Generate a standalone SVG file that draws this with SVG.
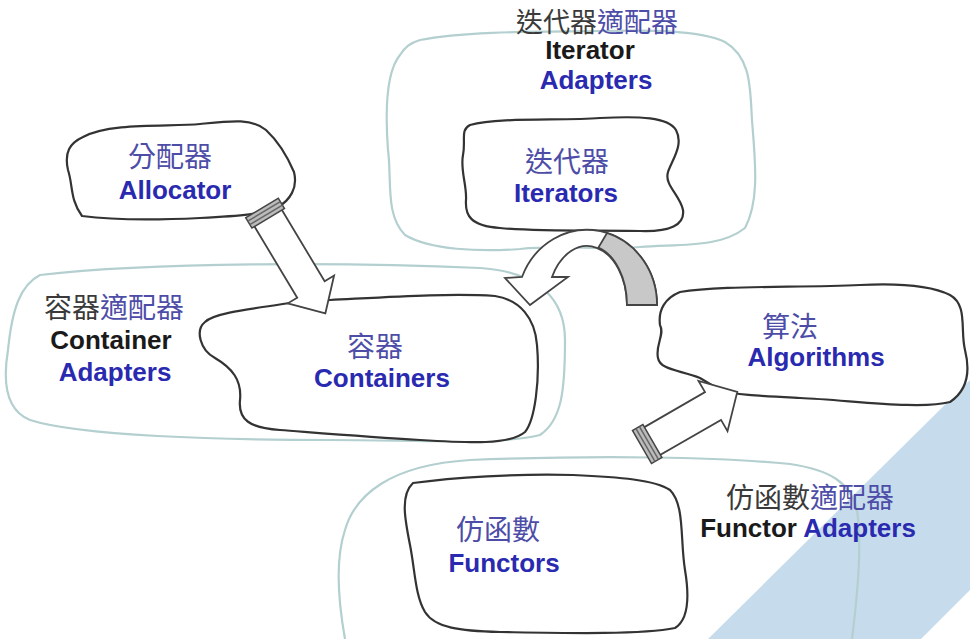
<svg xmlns="http://www.w3.org/2000/svg" width="970" height="639" viewBox="0 0 970 639">
<style>
.outer{fill:none;stroke:#b4cfcf;stroke-width:2.2}
.cloud{fill:#fff;stroke:#333;stroke-width:2.2;stroke-linejoin:round}
.arrow{fill:#fff;stroke:#444;stroke-width:1.8;stroke-linejoin:miter}
.cap{fill:#bbb;stroke:#444;stroke-width:1.5}
.hatch{stroke:#666;stroke-width:1.5}
.en{font-family:"Liberation Sans",Arial,sans-serif;font-weight:bold;font-size:26px;text-anchor:middle}
.cjk{font-family:"Noto Sans CJK TC","Noto Sans CJK SC",sans-serif;font-size:28px;text-anchor:middle}
.blue{fill:#2a2ab0}
.lblue{fill:#4d4da8}
.blk{fill:#1a1a1a}
.gray{fill:#3a3a3a}
</style>
<rect width="970" height="639" fill="#fff"/>
<polygon points="708,639 970,380 970,590 921,639" fill="#c6dcec"/>

<g id="outer-clouds">
<path id="iterator-adapters-cloud" class="outer" d="M 420 40 C 470 30, 560 32, 600 31 C 650 30, 700 30, 725 42 C 752 58, 750 90, 752 120 C 755 160, 760 200, 745 228 C 720 248, 680 244, 640 247 C 600 250, 560 245, 520 249 C 480 252, 430 250, 405 235 C 385 215, 392 180, 388 150 C 385 110, 386 72, 400 55 C 405 47, 410 43, 420 40 Z"/>
<path id="container-adapters-cloud" class="outer" d="M 40 275 C 150 262, 350 262, 480 268 C 540 272, 565 300, 565 340 C 565 390, 562 420, 540 435 C 500 445, 420 440, 330 440 C 220 440, 80 436, 30 420 C 5 410, 3 380, 8 350 C 12 310, 20 285, 40 275 Z"/>
<path id="functor-adapters-cloud" class="outer" d="M 345 639 C 338 600, 335 560, 345 530 C 355 495, 390 465, 470 460 C 600 455, 720 457, 790 464 C 830 470, 850 482, 857 510 C 862 545, 858 590, 852 639"/>
</g>

<g id="allocator">
<path class="cloud" d="M 83 137 C 110 122, 170 127, 200 124 C 230 121, 252 118, 266 130 C 280 143, 288 158, 294 172 C 298 188, 290 200, 278 207 C 265 214, 240 216, 200 218 C 160 220, 120 221, 82 216 C 70 200, 73 185, 68 170 C 64 152, 70 143, 83 137 Z"/>
</g>
<g id="iterators">
<path class="cloud" d="M 470 125 C 500 117, 560 121, 600 118 C 640 116, 668 117, 676 130 C 684 145, 672 160, 668 172 C 664 185, 680 195, 683 210 C 685 225, 670 232, 640 231 C 600 230, 540 232, 500 228 C 470 226, 465 215, 466 200 C 467 185, 460 170, 463 155 C 466 140, 460 130, 470 125 Z"/>
</g>
<g id="containers">
<path class="cloud" d="M 205 322 C 215 312, 260 308, 290 303 L 330 300 C 390 297, 450 293, 495 296 C 520 300, 535 318, 537 345 C 540 380, 535 420, 525 432 C 510 445, 470 443, 420 440 C 370 437, 320 433, 280 430 C 250 428, 238 420, 240 400 C 242 380, 232 368, 215 358 C 200 350, 195 330, 205 322 Z"/>
</g>
<g id="algorithms">
<path class="cloud" d="M 680 292 C 720 285, 800 288, 860 285 C 900 283, 930 285, 950 295 C 968 305, 960 330, 965 350 C 970 370, 968 390, 950 402 C 920 410, 850 400, 800 398 C 760 396, 735 395, 720 390 L 700 378 C 680 370, 660 370, 658 358 C 655 345, 665 335, 660 325 C 658 310, 665 298, 680 292 Z"/>
</g>
<g id="functors">
<path class="cloud" d="M 413 483 C 450 478, 520 473, 573 475 C 620 477, 655 480, 670 490 C 685 505, 680 540, 685 570 C 690 600, 688 620, 675 628 C 640 635, 560 633, 500 632 C 460 631, 435 628, 425 612 C 415 595, 415 570, 410 545 C 405 520, 400 495, 413 483 Z"/>
</g>

<g id="connectors">
<g id="allocator-to-containers" transform="translate(262 208) rotate(59)">
<polygon class="arrow" points="10,-16 95,-16 95,-27 123,0 95,27 95,16 10,16"/>
<rect class="cap" x="0" y="-19" width="12" height="38"/>
<line class="hatch" x1="4" y1="-19" x2="4" y2="19"/>
<line class="hatch" x1="8" y1="-19" x2="8" y2="19"/>
</g>
<g id="iterators-algorithms-cycle">
<path class="arrow" d="M 552 277 L 568 277 L 530 305 L 505 278 L 522 277 A 70 75 0 0 1 657 305 L 627 305 A 40 60 0 0 0 552 277 Z"/>
<path d="M 607 233 A 70 75 0 0 1 657 305 L 627 305 A 40 60 0 0 0 598.4 247.5 Z" fill="#c8c8c8" stroke="#444" stroke-width="1.8"/>
</g>
<g id="functors-to-algorithms" transform="translate(642 447) rotate(-30)">
<polygon class="arrow" points="10,-16 82,-16 82,-29 110,0 82,29 82,16 10,16"/>
<rect class="cap" x="0" y="-19" width="12" height="38"/>
<line class="hatch" x1="4" y1="-19" x2="4" y2="19"/>
<line class="hatch" x1="8" y1="-19" x2="8" y2="19"/>
</g>
</g>

<g id="labels">
<text class="cjk" x="597" y="32" style="font-size:27px"><tspan class="gray">迭代器</tspan><tspan class="lblue">適配器</tspan></text>
<text class="en blk" x="590" y="59">Iterator</text>
<text class="en blue" x="596" y="89">Adapters</text>
<text class="cjk lblue" x="567" y="172">迭代器</text>
<text class="en blue" x="566" y="202">Iterators</text>
<text class="cjk lblue" x="170" y="167">分配器</text>
<text class="en blue" x="175" y="199">Allocator</text>
<text class="cjk" x="114" y="318"><tspan class="gray">容器</tspan><tspan class="lblue">適配器</tspan></text>
<text class="en blk" x="111" y="349">Container</text>
<text class="en blue" x="115" y="381">Adapters</text>
<text class="cjk lblue" x="375" y="357">容器</text>
<text class="en blue" x="382" y="387">Containers</text>
<text class="cjk lblue" x="790" y="337">算法</text>
<text class="en blue" x="816" y="366">Algorithms</text>
<text class="cjk" x="810" y="508"><tspan class="gray">仿函數</tspan><tspan class="lblue">適配器</tspan></text>
<text class="en" x="808" y="537"><tspan class="blk">Functor</tspan><tspan class="blue"> Adapters</tspan></text>
<text class="cjk lblue" x="498" y="540">仿函數</text>
<text class="en blue" x="504" y="572">Functors</text>
</g>
</svg>
